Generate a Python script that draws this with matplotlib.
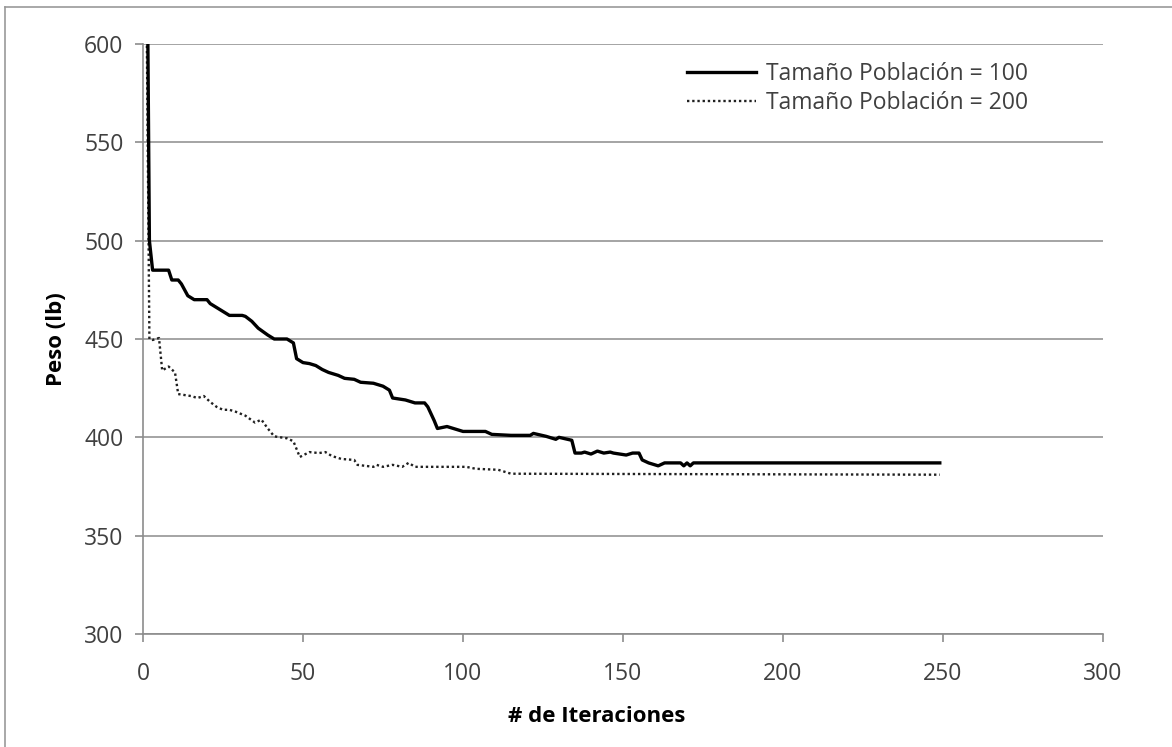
import matplotlib
matplotlib.use("Agg")
import matplotlib.pyplot as plt
from matplotlib.lines import Line2D

# ---- data ----
iter_100 = [1, 2, 3, 8, 9, 11, 12, 14, 16, 20, 21, 23, 25, 27, 31, 32, 34, 36, 39, 41,
            45, 47, 48, 50, 52, 54, 56, 58, 61, 63, 66, 68, 72, 75, 77, 78, 82, 85, 88, 89,
            91, 92, 95, 97, 100, 107, 109, 115, 121, 122, 126, 129, 130, 134, 135, 137, 138,
            140, 142, 144, 146, 147, 151, 153, 155, 156, 158, 161, 163, 168, 169, 170, 171,
            172, 249]
peso_100 = [712, 500, 485, 485, 480, 480, 478, 472, 470, 470, 468, 466, 464, 462, 462,
            461.5, 459, 455.5, 452, 450, 450, 448, 440, 438, 437.5, 436.5, 434.5, 433,
            431.5, 430, 429.5, 428, 427.5, 426, 424, 420, 419, 417.5, 417.5, 415.5, 408.5,
            404.5, 405.5, 404.5, 403, 403, 401.5, 401, 401, 402, 400.5, 399, 400, 398.5,
            392, 392, 392.5, 391.5, 393, 392, 392.5, 392, 391, 392, 392, 388.5, 387, 385.5,
            387, 387, 385.5, 387, 385.5, 387, 387]

iter_200 = [1, 2, 3, 5, 6, 8, 10, 11, 15, 17, 19, 21, 23, 25, 27, 29, 32, 35, 37, 39,
            41, 45, 47, 49, 52, 55, 57, 59, 62, 66, 67, 72, 73, 75, 78, 81, 83, 85, 101,
            104, 111, 115, 249]
peso_200 = [640, 450, 449.5, 450.5, 434, 436, 433, 422, 421, 420, 421, 418, 415.5, 414,
            414, 413, 411, 407.5, 409, 404.5, 400.5, 399.5, 398, 390, 392.5, 392, 392.5,
            390.5, 389, 388.5, 386, 385, 386, 385, 386, 385, 387, 385, 385, 384, 383.5,
            381.5, 381]

series_labels = ["Tamaño Población = 100", "Tamaño Población = 200"]
x_ticks = [0, 50, 100, 150, 200, 250, 300]
y_ticks = [300, 350, 400, 450, 500, 550, 600]
x_title = "# de Iteraciones"
y_title = "Peso (lb)"

# ---- style ----
FONT = ["Open Sans", "DejaVu Sans"]
plt.rcParams["font.family"] = FONT
GRID = "#8c8c8c"
TXT = "#404040"

fig = plt.figure(figsize=(11.72, 7.47), dpi=100)
ax = fig.add_axes([143 / 1172, 1 - 634 / 747, (1103 - 143) / 1172, (634 - 44) / 747])

ax.plot(iter_100, peso_100, color="black", lw=2.4, solid_joinstyle="round",
        label=series_labels[0], zorder=3)
ax.plot(iter_200, peso_200, color="#202020", lw=1.7, linestyle=(0, (1, 1.2)),
        label=series_labels[1], zorder=2)

ax.set_xlim(0, 300)
ax.set_ylim(300, 600)
ax.set_xticks(x_ticks)
ax.set_yticks(y_ticks)
ax.set_xticklabels([str(v) for v in x_ticks])
ax.set_yticklabels([str(v) for v in y_ticks])

for s in ["top", "right"]:
    ax.spines[s].set_visible(False)
for s in ["left", "bottom"]:
    ax.spines[s].set_color(GRID)
    ax.spines[s].set_linewidth(1.2)

ax.yaxis.grid(True, color=GRID, linewidth=1.1)
ax.set_axisbelow(True)
ax.tick_params(axis="both", which="major", direction="out", length=6, width=1.2,
               color=GRID, labelsize=16.5, labelcolor=TXT)
ax.tick_params(axis="x", pad=14)
ax.tick_params(axis="y", pad=8)

ax.set_xlabel(x_title, fontsize=16, fontweight="bold", color="black")
ax.xaxis.set_label_coords((597 - 143) / 960, -(717 - 634) / 590)
ax.xaxis.label.set_va("center")
ax.set_ylabel(y_title, fontsize=16, fontweight="bold", color="black")
ax.yaxis.set_label_coords(-(143 - 57) / 960, 0.5)
ax.yaxis.label.set_va("center")

leg = ax.legend(loc="upper right", bbox_to_anchor=(0.922, 0.97), frameon=False,
                fontsize=16.5, handlelength=3.0, handletextpad=0.45,
                labelspacing=0.25, borderaxespad=0.0, borderpad=0.0)
for t in leg.get_texts():
    t.set_color(TXT)

# outer chart border (only left and top visible in the crop)
fig.add_artist(Line2D([5 / 1172, 5 / 1172], [0, 1 - 7 / 747], transform=fig.transFigure,
                      color="#999999", lw=1.2))
fig.add_artist(Line2D([5 / 1172, 1], [1 - 7 / 747, 1 - 7 / 747], transform=fig.transFigure,
                      color="#999999", lw=1.2))

fig.savefig("out.png", dpi=100)
